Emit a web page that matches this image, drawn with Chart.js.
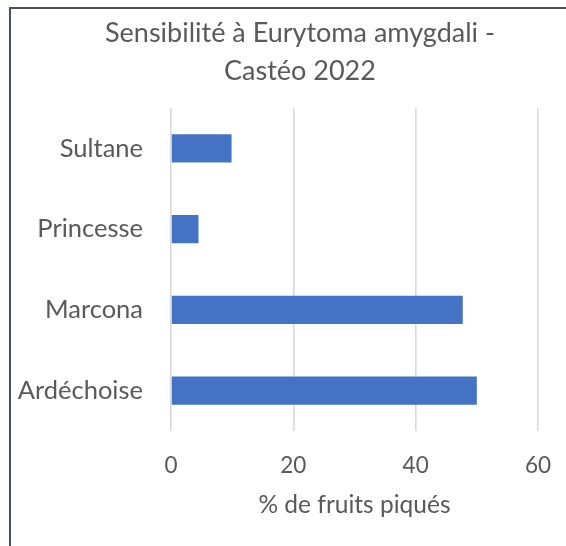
<!DOCTYPE html>
<html>
<head>
<meta charset="utf-8">
<script src="https://cdn.jsdelivr.net/npm/chart.js@4/dist/chart.umd.min.js"></script>
<style>
  html, body { margin: 0; padding: 0; background: #ffffff; overflow: hidden; }
  #wrap { position: relative; width: 566px; height: 546px; overflow: hidden; }
  #c { position: absolute; left: 0; top: 0; }
  #frame { position: absolute; left: 9px; top: 7px; width: 600px; height: 600px;
           border-left: 2px solid #465263; border-top: 2px solid #465263; pointer-events: none; }
</style>
</head>
<body>
<div id="wrap">
  <canvas id="c" width="600" height="546"></canvas>
  <div id="frame"></div>
</div>
<script>
const titleLines = ["Sensibilité à Eurytoma amygdali -", "Castéo 2022"];
const categories = ["Sultane", "Princesse", "Marcona", "Ardéchoise"];
const values = [9.9, 4.5, 47.7, 50.0];
const xTicks = [0, 20, 40, 60];
const xAxisTitle = "% de fruits piqués";

const textColor = "#595959";
const fontFamily = "Lato, 'Open Sans', sans-serif";

function draw() {
  new Chart(document.getElementById("c"), {
    type: "bar",
    data: {
      labels: categories,
      datasets: [{
        data: values,
        backgroundColor: "#4472C4",
        borderWidth: 0,
        barPercentage: 0.35,
        categoryPercentage: 1.0
      }]
    },
    options: {
      indexAxis: "y",
      responsive: false,
      animation: false,
      devicePixelRatio: 1,
      layout: { padding: { top: 0, left: 0, right: 0, bottom: 0 } },
      plugins: {
        legend: { display: false },
        tooltip: { enabled: false },
        title: {
          display: true,
          text: titleLines,
          color: textColor,
          font: { family: fontFamily, size: 27, weight: "normal", lineHeight: 1.41 },
          padding: { top: 14, bottom: 18 }
        }
      },
      scales: {
        x: {
          type: "linear",
          min: xTicks[0],
          max: xTicks[xTicks.length - 1],
          afterBuildTicks: (scale) => { scale.ticks = xTicks.map(v => ({ value: v })); },
          afterFit: (scale) => { scale.height = 115; scale.paddingRight = 62; },
          ticks: {
            color: textColor,
            font: { family: fontFamily, size: 22.5 },
            padding: 21
          },
          grid: { color: "#d9d9d9", lineWidth: 1.6, drawTicks: false },
          border: { display: false },
          title: {
            display: true,
            text: xAxisTitle,
            color: textColor,
            font: { family: fontFamily, size: 24.5 },
            padding: { top: 0, bottom: 26 }
          }
        },
        y: {
          afterFit: (scale) => { scale.width = 171; },
          ticks: {
            color: textColor,
            font: { family: fontFamily, size: 25.5 },
            padding: 28
          },
          grid: { display: false, drawTicks: false },
          border: { display: false }
        }
      }
    }
  });
}

if (document.fonts && document.fonts.load) {
  Promise.all([
    document.fonts.load("27px Lato"),
    document.fonts.load("22px Lato")
  ]).then(draw, draw);
} else {
  draw();
}
</script>
</body>
</html>
